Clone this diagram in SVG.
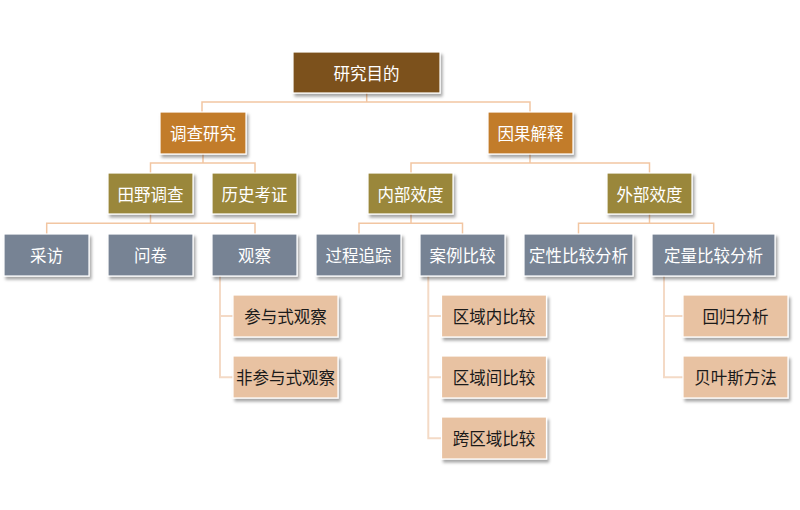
<svg xmlns="http://www.w3.org/2000/svg" width="800" height="510" viewBox="0 0 800 510">
<defs>
<filter id="sh" x="-10%" y="-10%" width="130%" height="140%">
<feDropShadow dx="2" dy="3" stdDeviation="1.5" flood-color="#000" flood-opacity="0.35"/>
</filter>
</defs>
<style>
.b rect{stroke:#fff;stroke-width:1.2;filter:url(#sh)}
.b text{font-family:"Microsoft YaHei","Noto Sans CJK SC",sans-serif;font-size:16.5px;text-anchor:middle;dominant-baseline:central}
.l0 rect{fill:#7C511B}
.l1 rect{fill:#C27B2B}
.l2 rect{fill:#9A873B}
.l3 rect{fill:#778394}
.l4 rect{fill:#E8C2A2}
.l0 text,.l1 text,.l2 text,.l3 text{fill:#fff}
.l4 text{fill:#1a1a1a}
.c path{fill:none;stroke:#F2C6A2;stroke-width:1.5}
.c path.s{stroke:#F4DAC6;stroke-width:2}
</style>
<rect width="800" height="510" fill="#fff"/>
<g id="connectors" class="c">
<path d="M366.7 93V102M202 112V102H530V112"/>
<path d="M203 154V163M150.5 173V163H255V173"/>
<path d="M530 154V163M411 173V163H649.5V173"/>
<path d="M150.5 214V223.3M46.7 234V223.3H255V234"/>
<path d="M411 214V223.3M359 234V223.3H462.5V234"/>
<path d="M649.5 214V223.3M578.5 234V223.3H713.7V234"/>
<path class="s" d="M220 276V377.3H233M220 316H233"/>
<path class="s" d="M428.3 276V438.3H441.7M428.3 316H441.7M428.3 377.3H441.7"/>
<path class="s" d="M664 276V377.3H683M664 316H683"/>
</g>
<g id="n0" class="b l0"><rect x="293" y="52" width="147" height="41"/><text x="366.5" y="72.5">研究目的</text></g>
<g id="n1" class="b l1"><rect x="160" y="112" width="86" height="42"/><text x="203" y="133">调查研究</text></g>
<g id="n2" class="b l1"><rect x="488" y="112" width="85" height="42"/><text x="530.5" y="133">因果解释</text></g>
<g id="n3" class="b l2"><rect x="108" y="173" width="85" height="41"/><text x="150.5" y="193.5">田野调查</text></g>
<g id="n4" class="b l2"><rect x="212" y="173" width="85" height="41"/><text x="254.5" y="193.5">历史考证</text></g>
<g id="n5" class="b l2"><rect x="368" y="173" width="85" height="41"/><text x="410.5" y="193.5">内部效度</text></g>
<g id="n6" class="b l2"><rect x="607" y="173" width="85" height="41"/><text x="649.5" y="193.5">外部效度</text></g>
<g id="n7" class="b l3"><rect x="4" y="234" width="85" height="42"/><text x="46.5" y="255">采访</text></g>
<g id="n8" class="b l3"><rect x="108" y="234" width="85" height="42"/><text x="150.5" y="255">问卷</text></g>
<g id="n9" class="b l3"><rect x="212" y="234" width="85" height="42"/><text x="254.5" y="255">观察</text></g>
<g id="n10" class="b l3"><rect x="316" y="234" width="85" height="42"/><text x="358.5" y="255">过程追踪</text></g>
<g id="n11" class="b l3"><rect x="420" y="234" width="85" height="42"/><text x="462.5" y="255">案例比较</text></g>
<g id="n12" class="b l3"><rect x="524" y="234" width="109" height="42"/><text x="578.5" y="255">定性比较分析</text></g>
<g id="n13" class="b l3"><rect x="652" y="234" width="123" height="42"/><text x="713.5" y="255">定量比较分析</text></g>
<g id="n14" class="b l4"><rect x="233" y="295" width="105" height="42"/><text x="285.5" y="316">参与式观察</text></g>
<g id="n15" class="b l4"><rect x="233" y="356" width="105" height="42"/><text x="285.5" y="377">非参与式观察</text></g>
<g id="n16" class="b l4"><rect x="441.5" y="295" width="105" height="42"/><text x="494" y="316">区域内比较</text></g>
<g id="n17" class="b l4"><rect x="441.5" y="356" width="105" height="42"/><text x="494" y="377">区域间比较</text></g>
<g id="n18" class="b l4"><rect x="441.5" y="417" width="105" height="42"/><text x="494" y="438">跨区域比较</text></g>
<g id="n19" class="b l4"><rect x="683" y="295" width="105" height="42"/><text x="735.5" y="316">回归分析</text></g>
<g id="n20" class="b l4"><rect x="683" y="356" width="105" height="42"/><text x="735.5" y="377">贝叶斯方法</text></g>
</svg>
